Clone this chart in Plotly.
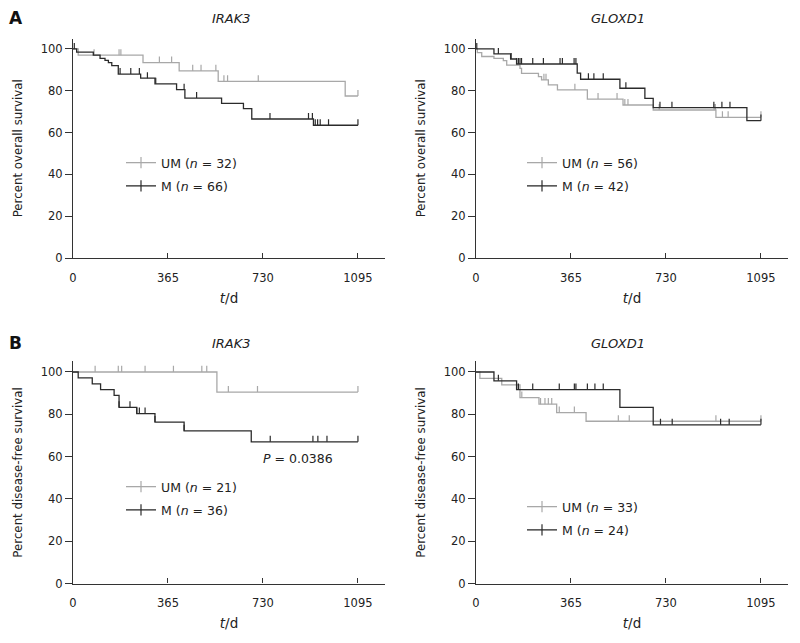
import plotly.graph_objects as go

# Kaplan-Meier curves: drop times (days) and the survival (%) after each drop,
# plus the censoring times. Follow-up ends at 1095 days.
END_DAY = 1095

# A: IRAK3 overall survival
irak3_os_um_t = [20, 269, 408, 558, 1046]
irak3_os_um_v = [97.0, 93.5, 89.5, 84.5, 77.5]
irak3_os_um_cens = [81, 177, 184, 332, 379, 460, 492, 549, 580, 594, 712, 1095]
irak3_os_m_t = [14, 78, 104, 123, 136, 149, 174, 260, 315, 398, 430, 571, 655, 687, 924]
irak3_os_m_v = [98.5, 97.0, 95.5, 94.5, 93.5, 92.0, 88.0, 86.0, 83.3, 80.5, 76.5, 74.0, 71.5, 66.5, 63.5]
irak3_os_m_cens = [5, 181, 222, 255, 286, 318, 427, 475, 757, 905, 920, 931, 940, 950, 982, 1095]

# A: GLOXD1 overall survival
gloxd1_os_um_t = [5, 22, 69, 105, 118, 169, 175, 240, 252, 278, 313, 428, 565, 681, 922]
gloxd1_os_um_v = [98.2, 96.4, 95.5, 94.4, 92.3, 90.7, 88.3, 86.8, 85.2, 82.8, 80.4, 76.0, 73.2, 70.8, 67.3]
gloxd1_os_um_cens = [261, 269, 380, 469, 542, 572, 584, 704, 915, 920, 947, 969, 1095]
gloxd1_os_m_t = [69, 133, 156, 389, 402, 553, 649, 681, 1041]
gloxd1_os_m_v = [97.6, 95.2, 92.8, 88.4, 85.5, 81.2, 76.4, 71.9, 65.7]
gloxd1_os_m_cens = [3, 86, 135, 156, 163, 169, 175, 218, 259, 323, 332, 377, 384, 432, 453, 489,
                    576, 707, 753, 914, 945, 976, 1095]

# B: IRAK3 disease-free survival
irak3_dfs_um_t = [553]
irak3_dfs_um_v = [90.5]
irak3_dfs_um_cens = [85, 174, 187, 277, 386, 495, 514, 597, 709, 1095]
irak3_dfs_m_t = [20, 74, 106, 158, 177, 245, 315, 427, 685]
irak3_dfs_m_v = [97.2, 94.4, 91.7, 88.9, 83.3, 80.3, 76.3, 72.2, 67.0]
irak3_dfs_m_cens = [177, 219, 245, 255, 277, 315, 427, 758, 922, 941, 976, 1095]

# B: GLOXD1 disease-free survival
gloxd1_dfs_um_t = [15, 99, 169, 242, 310, 423]
gloxd1_dfs_um_v = [97.0, 93.9, 87.9, 84.8, 80.8, 76.7]
gloxd1_dfs_um_cens = [176, 248, 265, 278, 291, 320, 378, 547, 589, 922, 1095]
gloxd1_dfs_m_t = [69, 156, 553, 681]
gloxd1_dfs_m_v = [95.8, 91.7, 83.3, 75.0]
gloxd1_dfs_m_cens = [86, 156, 163, 218, 320, 378, 384, 428, 457, 489, 709, 754, 940, 973, 1095]

x_ticks = [0, 365, 730, 1095]
y_ticks = [0, 20, 40, 60, 80, 100]

GREY = '#a8a8a8'
BLACK = '#2b2b2b'
FONT = 'DejaVu Sans'
TICK_H = 2.9  # height of a censoring mark, in percent units


def surv_at(t, times, vals):
    v = 100.0
    for tt, vv in zip(times, vals):
        if tt <= t:
            v = vv
    return v


def km_traces(times, vals, cens, color, name, axis, legend):
    xa, ya = 'x' + axis, 'y' + axis
    out = []
    out.append(go.Scatter(x=[0] + times + [END_DAY], y=[100] + vals + [vals[-1]],
                          mode='lines', line=dict(color=color, width=1.3, shape='hv'),
                          xaxis=xa, yaxis=ya, showlegend=False, hoverinfo='skip'))
    cx, cy = [], []
    for c in cens:
        v = surv_at(c, times, vals)
        cx += [c, c, None]
        cy += [v, v + TICK_H, None]
    out.append(go.Scatter(x=cx, y=cy, mode='lines', line=dict(color=color, width=1.2),
                          xaxis=xa, yaxis=ya, showlegend=False, hoverinfo='skip'))
    out.append(go.Scatter(x=[None], y=[None], mode='lines+markers', name=name,
                          legendgroup=name + axis,
                          line=dict(color=color, width=1.3),
                          marker=dict(symbol='line-ns-open', size=8, color=color,
                                      line=dict(color=color, width=1.2)),
                          xaxis=xa, yaxis=ya, legend=legend))
    return out


fig = go.Figure()
panels = [
    ('', 'legend', irak3_os_um_t, irak3_os_um_v, irak3_os_um_cens, 32,
     irak3_os_m_t, irak3_os_m_v, irak3_os_m_cens, 66),
    ('2', 'legend2', gloxd1_os_um_t, gloxd1_os_um_v, gloxd1_os_um_cens, 56,
     gloxd1_os_m_t, gloxd1_os_m_v, gloxd1_os_m_cens, 42),
    ('3', 'legend3', irak3_dfs_um_t, irak3_dfs_um_v, irak3_dfs_um_cens, 21,
     irak3_dfs_m_t, irak3_dfs_m_v, irak3_dfs_m_cens, 36),
    ('4', 'legend4', gloxd1_dfs_um_t, gloxd1_dfs_um_v, gloxd1_dfs_um_cens, 33,
     gloxd1_dfs_m_t, gloxd1_dfs_m_v, gloxd1_dfs_m_cens, 24),
]
for ax, lg, ut, uv, uc, un, mt, mv, mc, mn in panels:
    for tr in km_traces(ut, uv, uc, GREY, f'UM (<i>n</i> = {un})', ax, lg):
        fig.add_trace(tr)
    for tr in km_traces(mt, mv, mc, BLACK, f'M (<i>n</i> = {mn})', ax, lg):
        fig.add_trace(tr)

# the page body has an 8px margin, so the figure is drawn 8px in and sized to fit the window
OFF = 8
W, H = 800 - 2 * OFF, 643 - 2 * OFF


def px_x(p):
    return (p - OFF) / W


def px_y(p):
    return 1 - (p - OFF) / H


xdom_l = [px_x(73), px_x(385)]
xdom_r = [px_x(476), px_x(788)]
ydom_t = [px_y(258), px_y(38.5)]
ydom_b = [px_y(583.5), px_y(361.4)]

xa_common = dict(range=[0, 1199], tickvals=x_ticks, ticks='inside', ticklen=5, tickwidth=1,
                 tickcolor='#333', showline=True, linecolor='#333', linewidth=1.2,
                 showgrid=False, zeroline=False, ticklabelstandoff=9, automargin=False,
                 tickfont=dict(family=FONT, size=11.5, color='#222'),
                 title=dict(text='<i>t</i>/d', font=dict(family=FONT, size=13.5, color='#222'),
                            standoff=9))
ya_common = dict(range=[0, 105], tickvals=y_ticks, ticks='outside', ticklen=7, tickwidth=1,
                 tickcolor='#333', showline=True, linecolor='#333', linewidth=1.2,
                 showgrid=False, zeroline=False, automargin=False,
                 tickfont=dict(family=FONT, size=11.5, color='#222'))


def ytitle(text):
    return dict(text=text, font=dict(family=FONT, size=11.8, color='#222'), standoff=15)


fig.update_layout(
    width=W, height=H, margin=dict(l=0, r=0, t=0, b=0, autoexpand=False),
    paper_bgcolor='white', plot_bgcolor='white',
    font=dict(family=FONT, size=12, color='#222'),
    xaxis=dict(domain=xdom_l, anchor='y', **xa_common),
    yaxis=dict(domain=ydom_t, anchor='x', **ya_common, title=ytitle('Percent overall survival')),
    xaxis2=dict(domain=xdom_r, anchor='y2', **xa_common),
    yaxis2=dict(domain=ydom_t, anchor='x2', **ya_common, title=ytitle('Percent overall survival')),
    xaxis3=dict(domain=xdom_l, anchor='y3', **xa_common),
    yaxis3=dict(domain=ydom_b, anchor='x3', **ya_common, title=ytitle('Percent disease-free survival')),
    xaxis4=dict(domain=xdom_r, anchor='y4', **xa_common),
    yaxis4=dict(domain=ydom_b, anchor='x4', **ya_common, title=ytitle('Percent disease-free survival')),
)

leg = dict(bgcolor='rgba(0,0,0,0)', font=dict(family=FONT, size=12.5, color='#222'),
           xanchor='left', yanchor='top', traceorder='grouped', tracegroupgap=4, itemwidth=30)
fig.update_layout(
    legend=dict(x=px_x(121), y=px_y(148), **leg),
    legend2=dict(x=px_x(522), y=px_y(148), **leg),
    legend3=dict(x=px_x(121), y=px_y(472), **leg),
    legend4=dict(x=px_x(522), y=px_y(492), **leg),
)

ann = []
for txt, xp, yp in [('<i>IRAK3</i>', 231, 18), ('<i>GLOXD1</i>', 618, 18),
                    ('<i>IRAK3</i>', 231, 343), ('<i>GLOXD1</i>', 618, 343)]:
    ann.append(dict(text=txt, x=px_x(xp), y=px_y(yp), xref='paper', yref='paper',
                    xanchor='center', yanchor='middle', showarrow=False,
                    font=dict(family=FONT, size=13, color='#222')))
for txt, yp in [('<b>A</b>', 18), ('<b>B</b>', 343)]:
    ann.append(dict(text=txt, x=px_x(16), y=px_y(yp), xref='paper', yref='paper',
                    xanchor='center', yanchor='middle', showarrow=False,
                    font=dict(family=FONT, size=17, color='#111')))
ann.append(dict(text='<i>P</i> = 0.0386', x=865, y=59, xref='x3', yref='y3',
                xanchor='center', yanchor='middle', showarrow=False,
                font=dict(family=FONT, size=12.5, color='#222')))
fig.update_layout(annotations=ann)

fig.write_html('out.html')
